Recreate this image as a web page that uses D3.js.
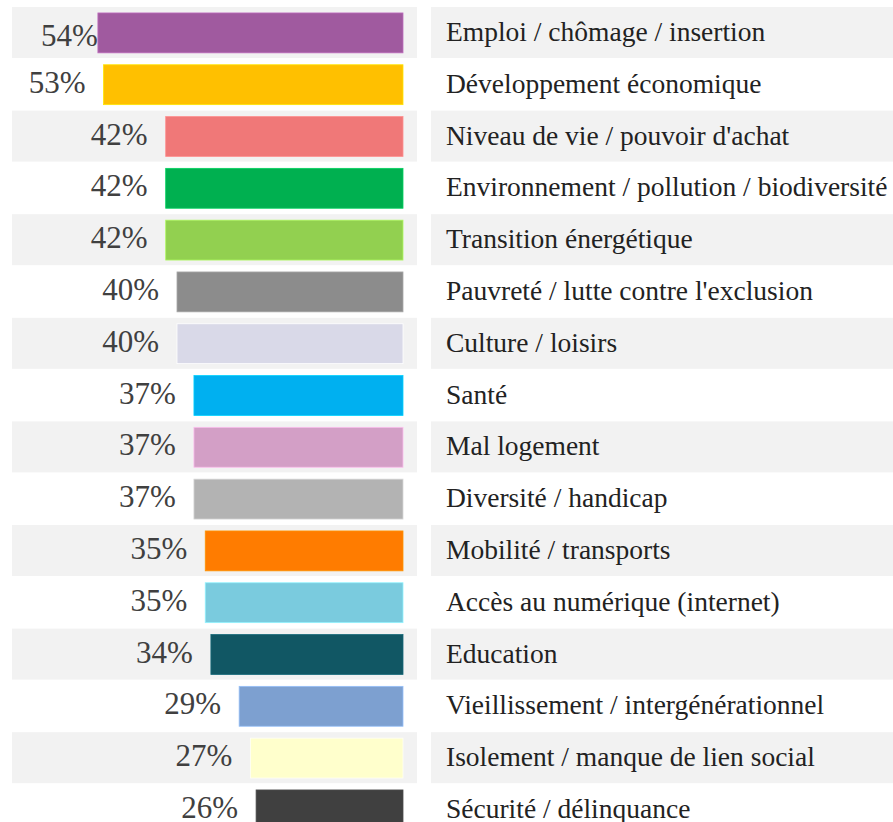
<!DOCTYPE html>
<html><head><meta charset="utf-8">
<script src="https://cdn.jsdelivr.net/npm/d3@7/dist/d3.min.js"></script>
<style>html,body{margin:0;padding:0;background:#fff;overflow:hidden}</style>
</head><body>
<svg id="c" width="893" height="822"></svg>
<script>
const categories = [
  "Emploi / chômage / insertion",
  "Développement économique",
  "Niveau de vie / pouvoir d'achat",
  "Environnement / pollution / biodiversité",
  "Transition énergétique",
  "Pauvreté / lutte contre l'exclusion",
  "Culture / loisirs",
  "Santé",
  "Mal logement",
  "Diversité / handicap",
  "Mobilité / transports",
  "Accès au numérique (internet)",
  "Education",
  "Vieillissement / intergénérationnel",
  "Isolement / manque de lien social",
  "Sécurité / délinquance"
];
const values = [54, 53, 42, 42, 42, 40, 40, 37, 37, 37, 35, 35, 34, 29, 27, 26];
const colors = ["#A05A9F","#FFC000","#F07878","#00B050","#92D050","#8C8C8C","#D9D9E8","#00B0F0",
                "#D39FC6","#B3B3B3","#FF7C00","#7ACBDE","#115764","#7DA0D0","#FFFFCC","#404040"];

const svg = d3.select("#c");
const rowH = 51.8, top0 = 7;
const y = d3.scaleBand().domain(categories).range([top0, top0 + rowH * categories.length]).paddingInner(0);
const yBar = d3.scaleBand().domain(categories).range([top0, top0 + rowH * categories.length]).paddingInner(0.23).paddingOuter(0.115);
const barRight = 403;
const w = d3.scaleLinear().domain([0, 100]).range([0, 565]);
const maxV = d3.max(values);

const rows = svg.selectAll("g.row").data(categories).join("g").attr("class","row");
// backgrounds
rows.filter((d,i)=>i%2===0).append("rect")
  .attr("x",12).attr("width",405).attr("y",d=>y(d)).attr("height",y.bandwidth()-0.8).attr("fill","#F2F2F2");
rows.filter((d,i)=>i%2===0).append("rect")
  .attr("x",431).attr("width",470).attr("y",d=>y(d)).attr("height",y.bandwidth()-0.8).attr("fill","#F2F2F2");

// bars
rows.append("rect")
  .attr("x",(d,i)=>barRight - w(values[i]))
  .attr("width",(d,i)=>w(values[i]))
  .attr("y",d=>yBar(d)).attr("height",yBar.bandwidth())
  .attr("fill",(d,i)=>colors[i])
  .attr("stroke",(d,i)=>d3.color(colors[i]).brighter(0.5)).attr("stroke-width",0.8);

// value labels
rows.append("text")
  .attr("x",(d,i)=>barRight - w(values[i]) - (values[i]===maxV ? 0 : 18))
  .attr("y",(d,i)=>y(d) + (values[i]===maxV ? 38.5 : 34))
  .attr("text-anchor","end")
  .attr("font-family","'Liberation Serif', 'DejaVu Serif', serif")
  .attr("font-size",31).attr("fill","#404040")
  .text((d,i)=>values[i] + "%");

// category labels
rows.append("text")
  .attr("x",446).attr("y",d=>y(d)+34)
  .attr("font-family","'Liberation Serif', 'DejaVu Serif', serif")
  .attr("font-size",27.5).attr("fill","#222222")
  .text(d=>d);
</script>
</body></html>
